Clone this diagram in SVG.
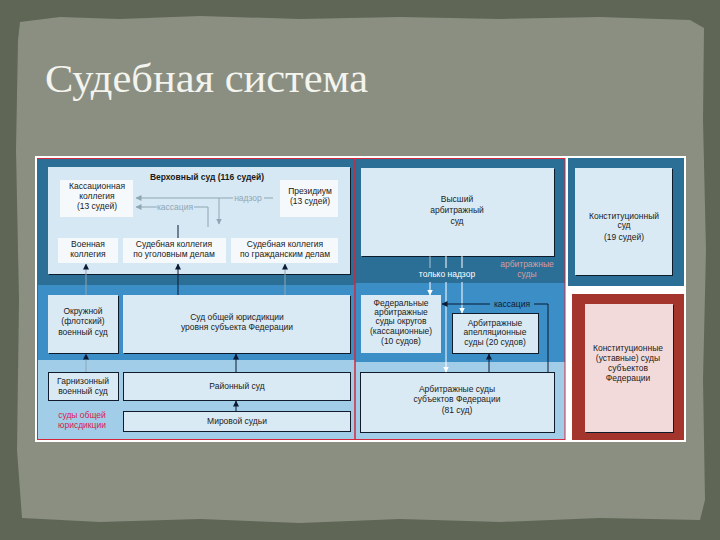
<svg xmlns="http://www.w3.org/2000/svg" width="720" height="540" viewBox="0 0 720 540">
<defs>
<marker id="ad" viewBox="0 0 6 6" refX="5.5" refY="3" markerWidth="6" markerHeight="6" orient="auto" markerUnits="userSpaceOnUse"><path d="M0,0 L6,3 L0,6 z" fill="#0c1a34"/></marker>
<marker id="aw" viewBox="0 0 6 6" refX="5.5" refY="3" markerWidth="6" markerHeight="6" orient="auto" markerUnits="userSpaceOnUse"><path d="M0,0 L6,3 L0,6 z" fill="#ffffff"/></marker>
<marker id="ag" viewBox="0 0 6 6" refX="5.5" refY="3" markerWidth="6" markerHeight="6" orient="auto" markerUnits="userSpaceOnUse"><path d="M0,0 L6,3 L0,6 z" fill="#8fa6b4"/></marker>
<style>
.t{font-family:"Liberation Sans",Arial,sans-serif;font-size:8.5px;fill:#1a1a1a;text-anchor:middle}
.b{font-weight:bold}
.box{fill:#d9eaf5}
.wb{fill:#f5f9fc}
.ob{fill:#d9eaf5;stroke:#101c2c;stroke-width:1}
.dark{fill:#2b6e96}
.med{fill:#3b8ec6}
.light{fill:#a2cde9}
.lg{stroke:#8fa6b4;stroke-width:1;fill:none}
.ld{stroke:#0c1a34;stroke-width:1;fill:none}
.lw{stroke:#ffffff;stroke-width:1;fill:none}
</style>
</defs>
<!-- background -->
<rect x="0" y="0" width="720" height="540" fill="#5f6655"/>
<path d="M20,22 L60,17 L120,19 L200,16 L300,19 L400,17 L500,19 L600,17 L690,20 L704,28 L703,120 L706,250 L703,380 L705,500 L700,520 L600,518 L500,522 L400,519 L300,523 L200,519 L100,522 L22,518 L17,450 L19,300 L16,150 L18,40 z" fill="#8a8f82"/>
<text x="45" y="92" textLength="323" lengthAdjust="spacingAndGlyphs" style="font-family:'Liberation Serif','DejaVu Serif',serif;font-size:39px;fill:#f4f4ee">Судебная система</text>
<!-- frame -->
<rect x="35" y="156" width="651" height="286" fill="#ffffff"/>
<!-- left panel bands -->
<rect class="dark" x="37" y="158" width="318" height="127"/>
<rect class="med" x="37" y="285" width="318" height="75"/>
<rect class="light" x="37" y="360" width="318" height="80"/>
<!-- middle panel bands -->
<rect class="dark" x="355" y="158" width="210" height="125"/>
<rect class="med" x="355" y="283" width="210" height="79"/>
<rect class="light" x="355" y="362" width="210" height="78"/>
<!-- right panel -->
<rect class="dark" x="568" y="158" width="116" height="128"/>
<rect x="572" y="294" width="112" height="146" fill="#a3352d"/>
<!-- red borders -->
<rect x="37.5" y="158.5" width="317.5" height="281" fill="none" stroke="#d4283c" stroke-width="1"/>
<rect x="355" y="158.5" width="210" height="281" fill="none" stroke="#d4283c" stroke-width="1"/>

<g id="verkhovny">
<rect x="49" y="168" width="302" height="107" fill="#0e1b2a"/>
<rect x="48" y="167" width="302" height="107" fill="#d6e8f3"/>
<text class="t b" x="207" y="180">Верховный суд (116 судей)</text>
</g>
<g id="kassacionnaya">
<rect class="wb" x="60" y="180" width="73" height="37"/>
<text class="t" x="97" y="189">Кассационная</text>
<text class="t" x="97" y="199">коллегия</text>
<text class="t" x="97" y="209">(13 судей)</text>
</g>
<g id="prezidium">
<rect class="wb" x="280" y="180" width="58" height="37"/>
<text class="t" x="310" y="194">Президиум</text>
<text class="t" x="310" y="204">(13 судей)</text>
</g>
<g id="voennaya">
<rect class="wb" x="58" y="238" width="60" height="25"/>
<text class="t" x="88" y="247">Военная</text>
<text class="t" x="88" y="257">коллегия</text>
</g>
<g id="ugolovnaya">
<rect class="wb" x="123" y="238" width="103" height="25"/>
<text class="t" x="174" y="247">Судебная коллегия</text>
<text class="t" x="174" y="257">по уголовным делам</text>
</g>
<g id="grazhdanskaya">
<rect class="wb" x="231" y="238" width="107" height="25"/>
<text class="t" x="285" y="247">Судебная коллегия</text>
<text class="t" x="285" y="257">по гражданским делам</text>
</g>
<g id="okruzhnoy">
<rect x="49" y="296" width="70" height="58" fill="#0e1b2a"/>
<rect class="box" x="48" y="295" width="70" height="58"/>
<text class="t" x="83" y="314">Окружной</text>
<text class="t" x="83" y="324">(флотский)</text>
<text class="t" x="83" y="335">военный суд</text>
</g>
<g id="subekt">
<rect x="124" y="296" width="227" height="58" fill="#0e1b2a"/>
<rect class="box" x="123" y="295" width="227" height="58"/>
<text class="t" x="237" y="320">Суд общей юрисдикции</text>
<text class="t" x="237" y="330">уровня субъекта Федерации</text>
</g>
<g id="garnizonny">
<rect class="ob" x="48.5" y="372.5" width="70" height="28"/>
<text class="t" x="83" y="384">Гарнизонный</text>
<text class="t" x="83" y="394">военный суд</text>
</g>
<g id="rayonny">
<rect class="ob" x="123.5" y="372.5" width="227" height="28"/>
<text class="t" x="237" y="389">Районный суд</text>
</g>
<g id="mirovoy">
<rect class="ob" x="123.5" y="411.5" width="227" height="20"/>
<text class="t" x="237" y="424">Мировой судьи</text>
</g>
<g id="label-sou">
<text class="t" x="82" y="418" style="fill:#d6204e">суды общей</text>
<text class="t" x="82" y="428" style="fill:#d6204e">юрисдикции</text>
</g>
<g id="vysshiy">
<rect x="362" y="169" width="193" height="88" fill="#0e1b2a"/>
<rect class="box" x="361" y="168" width="193" height="88"/>
<text class="t" x="457" y="202">Высший</text>
<text class="t" x="457" y="213">арбитражный</text>
<text class="t" x="457" y="224">суд</text>
</g>
<g id="federalnye">
<rect class="box" x="361" y="295" width="80" height="58"/>
<text class="t" x="401" y="306">Федеральные</text>
<text class="t" x="401" y="315">арбитражные</text>
<text class="t" x="401" y="324">суды округов</text>
<text class="t" x="401" y="334">(кассационные)</text>
<text class="t" x="401" y="344">(10 судов)</text>
</g>
<g id="apellyacionnye">
<rect class="ob" x="452.5" y="313.5" width="86" height="40"/>
<text class="t" x="495" y="326">Арбитражные</text>
<text class="t" x="495" y="335">апелляционные</text>
<text class="t" x="495" y="345">суды (20 судов)</text>
</g>
<g id="arb-subekty">
<rect class="ob" x="360.5" y="372.5" width="194" height="60"/>
<text class="t" x="457" y="392">Арбитражные суды</text>
<text class="t" x="457" y="402">субъектов Федерации</text>
<text class="t" x="457" y="413">(81 суд)</text>
</g>
<g id="konstitucionny">
<rect x="576" y="169" width="97" height="107" fill="#0e1b2a"/>
<rect class="box" x="575" y="168" width="97" height="107"/>
<text class="t" x="624" y="219">Конституционный</text>
<text class="t" x="624" y="228">суд</text>
<text class="t" x="624" y="240">(19 судей)</text>
</g>
<g id="konst-subekty">
<rect x="586" y="305" width="88" height="128" fill="#0e1b2a"/>
<rect x="585" y="304" width="88" height="128" fill="#f3dada"/>
<text class="t" x="628" y="351">Конституционные</text>
<text class="t" x="628" y="361">(уставные) суды</text>
<text class="t" x="628" y="371">субъектов</text>
<text class="t" x="628" y="381">Федерации</text>
</g>
<g id="labels-mid">
<text class="t" x="447" y="277" style="fill:#ffffff">только надзор</text>
<text class="t" x="527" y="267" style="fill:#d59e9e">арбитражные</text>
<text class="t" x="527" y="277" style="fill:#d59e9e">суды</text>
</g>

<g id="connectors">
<!-- надзор -->
<path class="lg" d="M233,198 L136,198" marker-end="url(#ag)"/>
<path class="lg" d="M264,198 L273,198"/>
<text class="t" x="248" y="201" style="fill:#8fa6b4">надзор</text>
<path class="lg" d="M219,198 L219,224" marker-end="url(#ag)"/>
<!-- кассация -->
<path class="lg" d="M157,207 L136,207" marker-end="url(#ag)"/>
<path class="lg" d="M194,207 L208,207 L208,227"/>
<text class="t" x="175" y="210" style="fill:#8fa6b4">кассация</text>
<path class="ld" d="M178,225 L178,238"/>
<!-- up from second band -->
<path class="lg" d="M86,295 L86,264" marker-end="url(#ad)"/>
<path class="ld" d="M178,295 L178,264" marker-end="url(#ad)"/>
<path class="lg" d="M285,295 L285,264" marker-end="url(#ad)"/>
<path class="lg" d="M86,372 L86,354" marker-end="url(#ad)"/>
<path class="ld" d="M236,372 L236,354" marker-end="url(#ad)"/>
<path class="ld" d="M236,411 L236,401" marker-end="url(#ad)"/>
<!-- arbitration -->
<path class="lw" d="M430,256 L430,268" stroke-opacity="0.6"/>
<path class="lw" d="M430,282 L430,295" marker-end="url(#aw)"/>
<path class="lw" d="M446,256 L446,268"/>
<path class="lw" d="M446,282 L446,372" marker-end="url(#aw)"/>
<path class="lw" d="M462,256 L462,268"/>
<path class="lw" d="M462,282 L462,313" marker-end="url(#aw)"/>
<path class="ld" d="M548,372 L548,304 L534,304"/>
<path class="ld" d="M490,304 L442,304" marker-end="url(#ad)"/>
<text class="t" x="512" y="307" style="fill:#0c1a34">кассация</text>
<path class="ld" d="M489,372 L489,354" marker-end="url(#ad)"/>
</g>
</svg>
